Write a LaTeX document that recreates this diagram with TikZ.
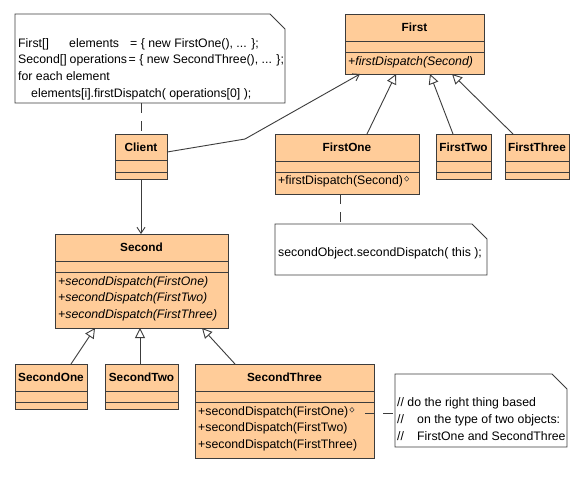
\documentclass[tikz,border=0pt]{standalone}
\usepackage{fontspec}
\setmainfont{Liberation Sans}
\usetikzlibrary{arrows.meta,calc,shapes.geometric}
\definecolor{clsfill}{RGB}{255,204,153}
\definecolor{edgecol}{RGB}{60,60,60}
\newcommand{\mkclass}[7]{%
  \node[box, minimum width=#4, minimum height=#5] (#1) at (#2,#3) {};
  \draw[cline] ($(#1.north west)+(0,#6)$) -- ($(#1.north east)+(0,#6)$);
  \draw[cline] ($(#1.north west)+(0,#7)$) -- ($(#1.north east)+(0,#7)$);
}
\newcommand{\mknote}[5]{%
  \node[notebox, minimum width=#4, minimum height=#5] (#1) at (#2,#3) {};
  \draw[noteline] (#1.north west) -- ($(#1.north east)+(-15,0)$) -- ($(#1.north east)+(0,15)$)
     -- (#1.south east) -- (#1.south west) -- cycle;
}
\begin{document}
\begin{tikzpicture}[x=1pt,y=-1pt,
  box/.style={draw=edgecol, fill=clsfill, line width=0.9pt, anchor=north west, inner sep=0, outer sep=0},
  cline/.style={draw=edgecol, line width=0.9pt},
  notebox/.style={anchor=north west, inner sep=0, outer sep=0},
  noteline/.style={draw=edgecol, fill=white, line width=0.9pt},
  nm/.style={font=\fontsize{11.8}{14}\selectfont\bfseries, anchor=base, inner sep=0},
  txt/.style={font=\fontsize{12.3}{14}\selectfont, anchor=base west, inner sep=0},
  itx/.style={font=\fontsize{12.3}{14}\selectfont\itshape, anchor=base west, inner sep=0},
  opmark/.style={diamond, draw=edgecol, line width=0.5pt, inner sep=0, minimum width=4.5pt, minimum height=5pt, anchor=west},
  gen/.style={draw=edgecol, line width=0.9pt, -{Triangle[open, length=10pt, width=10pt]}},
  assoc/.style={draw=edgecol, line width=0.9pt, -{Straight Barb[length=6pt, width=8pt]}},
  dep/.style={draw=edgecol, line width=0.9pt, dash pattern=on 10pt off 8pt},
]
\fill[white] (0,0) rectangle (584,480);
\useasboundingbox (0,0) rectangle (584,480);

% notes
\mknote{note1}{15}{14}{270}{89}
\node[txt] (n1a) at (18,47) {First[]};
\node[txt] (n1b) at (69,47) {elements};
\node[txt] (n1c) at (130,47) {= \{ new FirstOne(), ... \};};
\node[txt] (n1d) at (18,63.7) {Second[]};
\node[txt] (n1e) at (69.5,63.7) {operations};
\node[txt] (n1f) at (128.5,63.7) {= \{ new SecondThree(), ... \};};
\node[txt] (n1g) at (18,80.3) {for each element};
\node[txt] (n1h) at (31,97) {elements[i].firstDispatch( operations[0] );};

\mknote{note2}{275}{224}{212}{51}
\node[txt] (n2a) at (278,256.3) {secondObject.secondDispatch( this );};

\mknote{note3}{395}{374}{172}{73}
\node[txt] (n3a) at (397,406.6) {// do the right thing based};
\node[txt] (n3b) at (397,423.6) {//};
\node[txt] (n3c) at (417,423.6) {on the type of two objects:};
\node[txt] (n3d) at (397,440.3) {//};
\node[txt] (n3e) at (417,440.3) {FirstOne and SecondThree};

% classes
\mkclass{first}{345}{14}{139}{60}{27}{38}
\node[nm] (firstN) at ($(first.north)+(0,17.6)$) {First};
\node[itx] (firstO) at ($(first.north west)+(3,51.3)$) {+firstDispatch(Second)};

\mkclass{firstone}{275}{134}{144}{60}{27}{38}
\node[nm] (firstoneN) at ($(firstone.north)+(0,17.6)$) {FirstOne};
\node[txt] (firstoneO) at ($(firstone.north west)+(3,50.3)$) {+firstDispatch(Second)};
\node[opmark] (firstoneM) at ($(firstoneO.base east)+(1,-5.5)$) {};

\mkclass{firsttwo}{436}{134}{55}{45}{27}{38}
\node[nm] (firsttwoN) at ($(firsttwo.north)+(0,17.6)$) {FirstTwo};

\mkclass{firstthree}{505}{134}{64}{45}{27}{38}
\node[nm] (firstthreeN) at ($(firstthree.north)+(0,17.6)$) {FirstThree};

\mkclass{client}{115}{134}{52}{45}{26}{38}
\node[nm] (clientN) at ($(client.north)+(0,17.3)$) {Client};

\mkclass{second}{55}{234}{173}{94}{27}{38}
\node[nm] (secondN) at ($(second.north)+(0,17.6)$) {Second};
\node[itx] (secondO1) at ($(second.north west)+(3,51.3)$) {+secondDispatch(FirstOne)};
\node[itx] (secondO2) at ($(second.north west)+(3,67.8)$) {+secondDispatch(FirstTwo)};
\node[itx] (secondO3) at ($(second.north west)+(3,84.3)$) {+secondDispatch(FirstThree)};

\mkclass{secondone}{15}{364}{72}{45}{27}{38}
\node[nm] (secondoneN) at ($(secondone.north)+(0,17.6)$) {SecondOne};

\mkclass{secondtwo}{105}{364}{73}{45}{27}{38}
\node[nm] (secondtwoN) at ($(secondtwo.north)+(0,17.6)$) {SecondTwo};

\mkclass{secondthree}{195}{364}{179}{94}{27}{38}
\node[nm] (secondthreeN) at ($(secondthree.north)+(0,17.6)$) {SecondThree};
\node[txt] (secondthreeO1) at ($(secondthree.north west)+(3,51.3)$) {+secondDispatch(FirstOne)};
\node[opmark] (secondthreeM) at ($(secondthreeO1.base east)+(1,-5.5)$) {};
\node[txt] (secondthreeO2) at ($(secondthree.north west)+(3,67.8)$) {+secondDispatch(FirstTwo)};
\node[txt] (secondthreeO3) at ($(secondthree.north west)+(3,84.3)$) {+secondDispatch(FirstThree)};

% connectors
\coordinate (bend1) at (245,139);
\draw[dep] ($(note1.south west)+(126,0)$) -- (client.north);
\draw[assoc] (client.south) -- (client.south |- second.north);
\draw[assoc] ($(client.north east)+(0,18)$) -- (bend1) -- ($(first.south west)+(15,0)$);
\draw[gen] ($(firstone.north west)+(92,0)$) -- ($(first.south west)+(51,0)$);
\draw[gen] ($(firsttwo.north west)+(17,0)$) -- ($(first.south west)+(85,0)$);
\draw[gen] ($(firstthree.north west)+(8,0)$) -- ($(first.south west)+(107,0)$);
\draw[dep] ($(firstone.south west)+(65,0)$) -- ($(note2.north west)+(65,0)$);
\draw[gen] ($(secondone.north west)+(56,0)$) -- ($(second.south west)+(40,0)$);
\draw[gen] ($(secondtwo.north west)+(35,0)$) -- ($(second.south west)+(85,0)$);
\draw[gen] ($(secondthree.north west)+(40,0)$) -- ($(second.south west)+(147,0)$);
\draw[dep] ($(secondthree.north east)+(-9,49)$) -- ($(note3.north west)+(0,39)$);
\end{tikzpicture}
\end{document}
